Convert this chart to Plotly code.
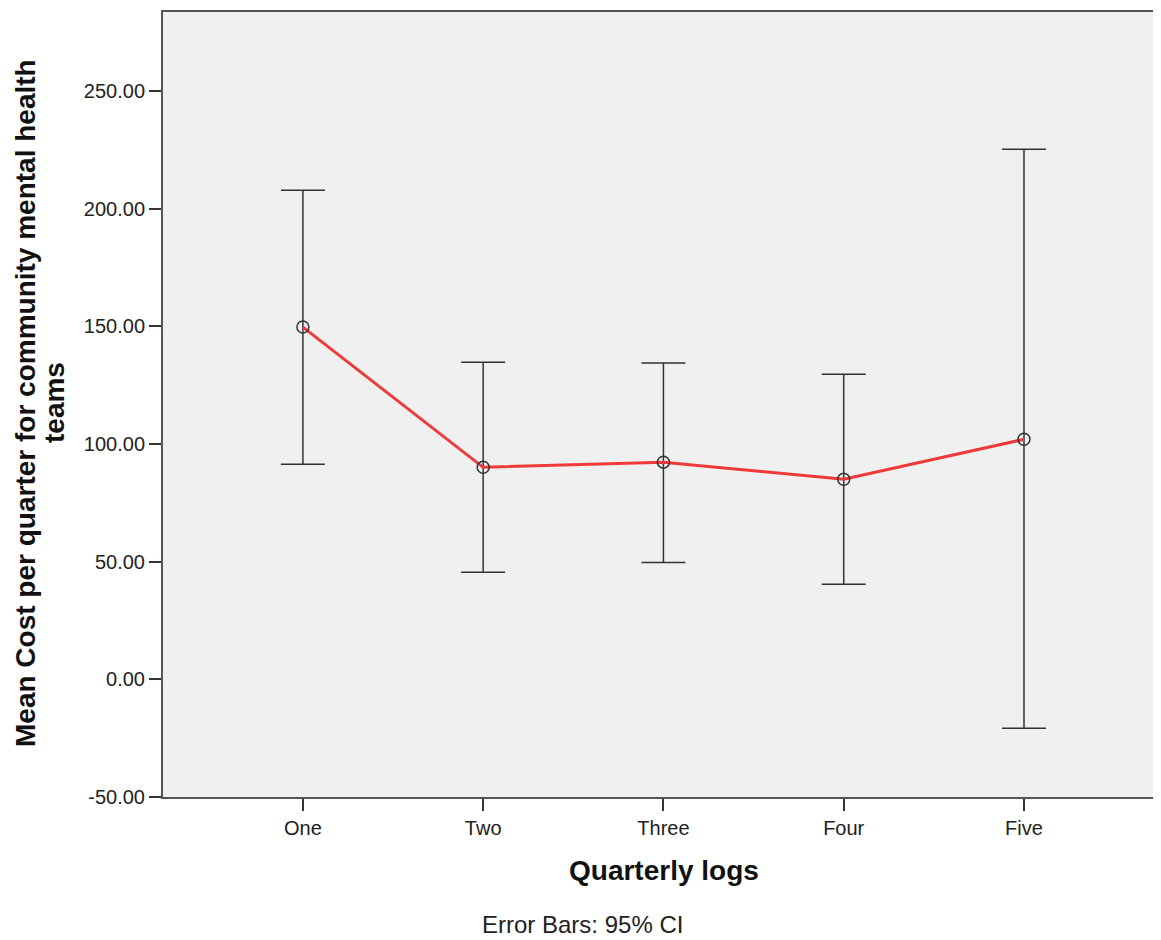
import plotly.graph_objects as go

categories = ["One", "Two", "Three", "Four", "Five"]
means = [149.7, 90.1, 92.3, 85.0, 102.0]
ci_upper = [207.9, 134.8, 134.4, 129.7, 225.3]
ci_lower = [91.4, 45.5, 49.7, 40.4, -20.8]
y_ticks = [-50, 0, 50, 100, 150, 200, 250]

err_plus = [u - m for u, m in zip(ci_upper, means)]
err_minus = [m - l for m, l in zip(means, ci_lower)]

fig = go.Figure()
fig.add_trace(go.Scatter(
    x=categories, y=means, mode="lines+markers",
    line=dict(color="#f03a3a", width=3),
    marker=dict(symbol="circle-open", size=12, color="#333333", line=dict(width=1.5, color="#333333")),
    error_y=dict(type="data", symmetric=False, array=err_plus, arrayminus=err_minus,
                 color="#333333", thickness=1.5, width=22),
    showlegend=False,
))

# page body has an 8px margin; plot area spans page x 163..1161, y 12..797
PW, PH = 998, 785
def px(x):
    return (x - 163) / PW
def py(y):
    return (797 - y) / PH

fig.update_layout(
    width=1153, height=932,
    margin=dict(l=155, r=0, t=4, b=143),
    paper_bgcolor="white", plot_bgcolor="#f0f0f0",
    font=dict(family="Liberation Sans, Arial", color="#333333", size=20),
    xaxis=dict(
        type="category", range=[-0.776, 4.76],
        showline=True, linecolor="#555555", linewidth=2, mirror=True,
        ticks="outside", ticklen=12, tickwidth=2, tickcolor="#333333",
        showgrid=False, zeroline=False, tickfont=dict(size=20, color="#222222"),
    ),
    yaxis=dict(
        range=[-50, 283.6], tickvals=y_ticks,
        ticktext=[f"{v:.2f}" for v in y_ticks],
        showline=True, linecolor="#555555", linewidth=2,
        ticks="outside", ticklen=12, tickwidth=2, tickcolor="#333333",
        showgrid=False, zeroline=False, tickfont=dict(size=20, color="#222222"),
    ),
    annotations=[
        dict(text="<b>Mean Cost per quarter for community mental health</b>",
             xref="paper", yref="paper", x=px(25), y=py(403), textangle=-90,
             showarrow=False, font=dict(size=28, color="#111111"), xanchor="center", yanchor="middle"),
        dict(text="<b>teams</b>",
             xref="paper", yref="paper", x=px(54), y=py(403), textangle=-90,
             showarrow=False, font=dict(size=28, color="#111111"), xanchor="center", yanchor="middle"),
        dict(text="<b>Quarterly logs</b>", xref="paper", yref="paper",
             x=px(664), y=py(870), showarrow=False,
             font=dict(size=28, color="#111111"), xanchor="center", yanchor="middle"),
        dict(text="Error Bars: 95% CI", xref="paper", yref="paper",
             x=px(582), y=py(924), showarrow=False,
             font=dict(size=24, color="#222222"), xanchor="center", yanchor="middle"),
    ],
)

fig.write_html("out.html")
